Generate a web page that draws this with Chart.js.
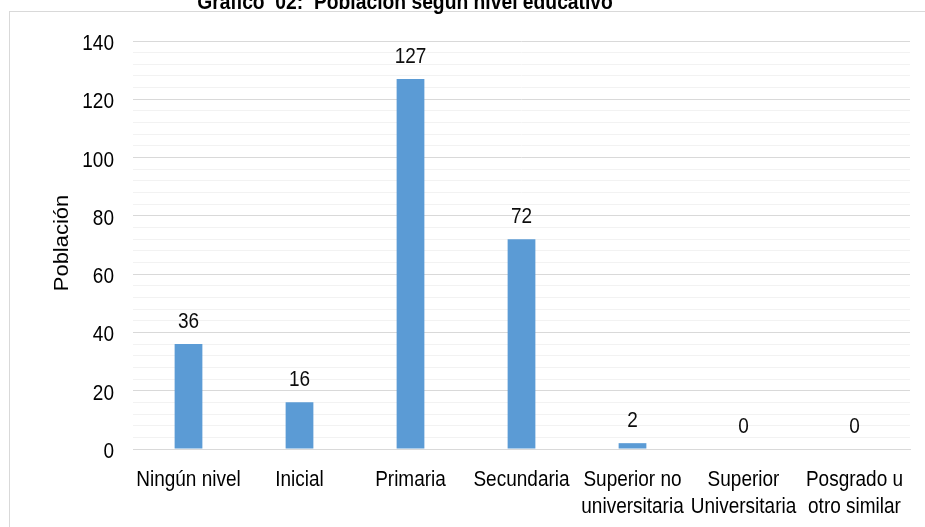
<!DOCTYPE html>
<html>
<head>
<meta charset="utf-8">
<script src="https://cdn.jsdelivr.net/npm/chart.js@4"></script>
<style>
html,body{margin:0;padding:0;background:#fff;}
#wrap{width:925px;height:527px;position:relative;}
</style>
</head>
<body>
<div id="wrap"><canvas id="chart" width="925" height="527"></canvas></div>
<script>
// datos del gráfico
const categorias = [
  "Ningún nivel",
  "Inicial",
  "Primaria",
  "Secundaria",
  ["Superior no", "universitaria"],
  ["Superior", "Universitaria"],
  ["Posgrado u", "otro similar"]
];
const poblacion = [36, 16, 127, 72, 2, 0, 0];
const ejeY = { min: 0, max: 140, paso: 4, etiqueta: 20 };
const titulo = "Gráfico  02:  Población según nivel educativo";
const tituloEjeY = "Población";

const fuente = "'Liberation Sans', Arial, sans-serif";
const tam = 19;
const estiraY = 1.15; // la imagen original esta algo estirada en vertical

// escribe texto estirado en vertical (y = linea base)
function texto(ctx, s, x, y, align, rot, estira){
  ctx.save();
  ctx.translate(x, y);
  ctx.scale(1, estira || estiraY);
  if(rot) ctx.rotate(rot);
  ctx.textAlign = align;
  ctx.textBaseline = "alphabetic";
  ctx.fillText(s, 0, 0);
  ctx.restore();
}

// marco y titulo (el titulo queda cortado arriba como en la imagen)
const marco = {
  id: "marco",
  beforeDraw(chart){
    const ctx = chart.ctx;
    ctx.save();
    ctx.strokeStyle = "#d9d9d9";
    ctx.lineWidth = 1;
    ctx.strokeRect(9.5, 11.5, 1200, 1200);
    ctx.fillStyle = "#000";
    ctx.font = "bold 19.3px " + fuente;
    texto(ctx, titulo, 405, 9, "center");
    ctx.restore();
  }
};

// textos de ejes y etiquetas de valores
const textos = {
  id: "textos",
  afterDraw(chart){
    const ctx = chart.ctx;
    const x = chart.scales.x, y = chart.scales.y;
    ctx.save();
    ctx.font = tam + "px " + fuente;
    ctx.fillStyle = "#000";
    // eje y
    y.ticks.forEach(t => {
      if(t.value % ejeY.etiqueta !== 0) return;
      texto(ctx, String(t.value), 114, y.getPixelForValue(t.value) + 9, "right");
    });
    // eje x
    categorias.forEach((c, i) => {
      const lineas = Array.isArray(c) ? c : [c];
      const px = x.getPixelForTick(i);
      lineas.forEach((l, k) => texto(ctx, l, px, 486 + k * 27, "center"));
    });
    // titulo eje y
    ctx.font = "20.5px " + fuente;
    texto(ctx, tituloEjeY, 68, y.top + (y.bottom - y.top) / 2 - 2, "center", -Math.PI / 2, 1.07);
    // valores
    ctx.font = tam + "px " + fuente;
    ctx.fillStyle = "#0d0d0d";
    chart.getDatasetMeta(0).data.forEach((bar, i) => {
      texto(ctx, String(poblacion[i]), bar.x, bar.y - 16, "center");
    });
    ctx.restore();
  }
};

new Chart(document.getElementById("chart"), {
  type: "bar",
  data: {
    labels: categorias,
    datasets: [{
      label: tituloEjeY,
      data: poblacion,
      backgroundColor: "#5b9bd5",
      barPercentage: 0.25,
      categoryPercentage: 1
    }]
  },
  options: {
    responsive: false,
    animation: false,
    layout: { padding: { top: 41, right: 15, left: 30, bottom: 0 } },
    plugins: {
      legend: { display: false },
      tooltip: { enabled: false }
    },
    scales: {
      x: {
        grid: { display: false },
        border: { display: true, color: "#d9d9d9" },
        ticks: { display: false },
        afterFit(scale){ scale.height = 78; }
      },
      y: {
        min: ejeY.min,
        max: ejeY.max,
        border: { display: false },
        grid: {
          drawTicks: false,
          color: c => (c.tick && c.tick.value % ejeY.etiqueta === 0) ? "#d9d9d9" : "#f2f2f2"
        },
        ticks: { display: false, stepSize: ejeY.paso, autoSkip: false },
        afterFit(scale){ scale.width = 103; }
      }
    }
  },
  plugins: [marco, textos]
});
</script>
</body>
</html>
